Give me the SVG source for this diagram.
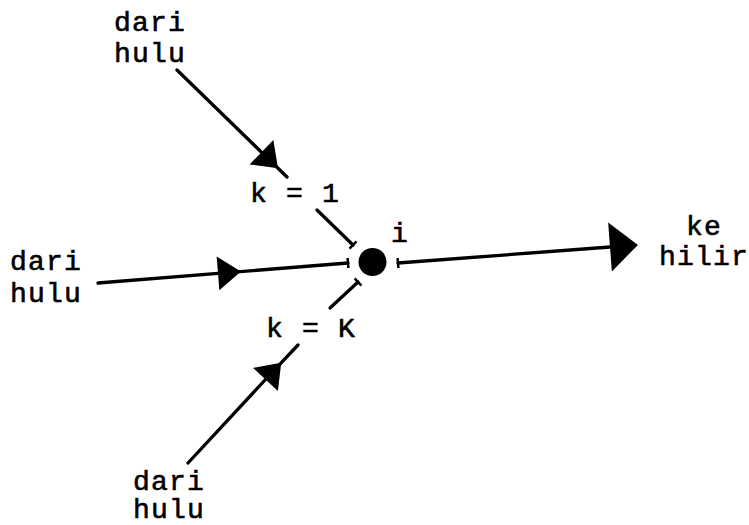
<svg xmlns="http://www.w3.org/2000/svg" width="749" height="525" viewBox="0 0 749 525">
<style>
  .t{font-family:"Liberation Mono","Courier New",monospace;font-size:28px;fill:#000;stroke:#000;stroke-width:0.6px;letter-spacing:1.2px}
  .ln{fill:none;stroke:#000;stroke-width:3.3;stroke-linecap:round}
</style>
<defs>
  <marker id="arr" markerUnits="userSpaceOnUse" viewBox="0 -18 24 36" refX="0" refY="0" markerWidth="24" markerHeight="36" orient="auto" overflow="visible">
    <path d="M0,-17 L23,0 L0,17 z" fill="#000"/>
  </marker>
  <marker id="arrBig" markerUnits="userSpaceOnUse" viewBox="0 -25 29 50" refX="0" refY="0" markerWidth="29" markerHeight="50" orient="auto" overflow="visible">
    <path d="M0,-24.5 L28,0 L0,24.5 z" fill="#000"/>
  </marker>
  <marker id="tick" markerUnits="userSpaceOnUse" viewBox="-2 -6 4 12" refX="0" refY="0" markerWidth="4" markerHeight="12" orient="auto" overflow="visible">
    <path d="M0,-5 L0,5" stroke="#000" stroke-width="2.5"/>
  </marker>
</defs>
<rect width="749" height="525" fill="#fff"/>
<g id="connectors">
  <path class="ln" d="M177,70 L261.5,152.2 L287,177" marker-mid="url(#arr)"/>
  <path class="ln" d="M317,210 L353,245" marker-end="url(#tick)"/>
  <path class="ln" d="M98,283 L218,273.4 L348,263" marker-mid="url(#arr)" marker-end="url(#tick)"/>
  <path class="ln" d="M188,463 L265.5,379.5 L298,345" marker-mid="url(#arr)"/>
  <path class="ln" d="M330,308 L358,282" marker-end="url(#tick)"/>
  <path class="ln" d="M398,263 L610,247" marker-start="url(#tick)" marker-end="url(#arrBig)"/>
</g>
<g id="node-i">
  <circle cx="372.5" cy="262" r="14" fill="#000"/>
  <text class="t" x="400" y="242" text-anchor="middle">i</text>
</g>
<g id="src-top">
  <text class="t" x="114" y="31">dari</text>
  <text class="t" x="114" y="62">hulu</text>
</g>
<g id="src-left">
  <text class="t" x="10" y="270">dari</text>
  <text class="t" x="10" y="302">hulu</text>
</g>
<g id="src-bottom">
  <text class="t" x="133" y="490">dari</text>
  <text class="t" x="133" y="518">hulu</text>
</g>
<g id="sink-right">
  <text class="t" x="704" y="235" text-anchor="middle">ke</text>
  <text class="t" x="704" y="265" text-anchor="middle">hilir</text>
</g>
<g id="labels">
  <text class="t" x="250" y="202">k = 1</text>
  <text class="t" x="266" y="337">k = K</text>
</g>
</svg>
